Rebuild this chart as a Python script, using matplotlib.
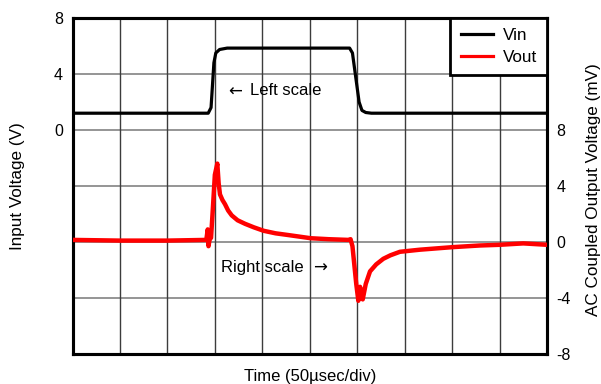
import matplotlib
matplotlib.use("Agg")
import matplotlib.pyplot as plt
from matplotlib.lines import Line2D

plt.rcParams['font.family'] = ['Liberation Sans', 'DejaVu Sans']

# ---- data (time in microseconds, 50 us/div) ----
vin_t = [0, 100, 143, 146, 149, 151, 155, 163, 200, 250, 292, 295, 302, 305, 309, 315, 400, 500]
vin_v = [1.2, 1.2, 1.2, 1.6, 4.8, 5.5, 5.75, 5.85, 5.85, 5.85, 5.85, 5.5, 2.0, 1.4, 1.25, 1.2, 1.2, 1.2]

vout_t = [0, 50, 100, 141, 142.5, 143.3, 144.5, 146, 148, 150, 152.6, 154, 155.4, 158, 160.7,
          164, 167.8, 174, 181.8, 191, 201.5, 214, 227, 251, 270, 290.6, 293, 295, 299, 301.2,
          303, 305.8, 309, 313.5, 320, 327.5, 335, 345, 366, 400, 429, 450, 475, 500]
vout_v = [0.15, 0.1, 0.1, 0.15, 0.9, -0.3, 0.2, 0.3, 2.5, 4.8, 5.6, 4.2, 3.4, 3.0, 2.7,
          2.25, 1.9, 1.55, 1.3, 1.05, 0.8, 0.62, 0.5, 0.27, 0.2, 0.15, 0.2, -0.3, -3.0, -4.2,
          -3.2, -4.1, -3.0, -2.1, -1.6, -1.2, -0.95, -0.7, -0.55, -0.37, -0.25, -0.2, -0.1, -0.2]

left_ticks = [-16, -12, -8, -4, 0, 4, 8]
left_labels = ['', '', '', '', '0', '4', '8']
right_ticks = [-8, -4, 0, 4, 8, 12, 16]
right_labels = ['-8', '-4', '0', '4', '8', '', '']
time_ticks = [0, 50, 100, 150, 200, 250, 300, 350, 400, 450, 500]

fig = plt.figure(figsize=(6.01, 3.84), dpi=100)
ax = fig.add_axes([72.5/601, 30/384, (547-72.5)/601, (354-18)/384])
ax2 = ax.twinx()

ax.set_xlim(0, 500)
ax.set_ylim(-16, 8)
ax2.set_ylim(-8, 16)

ax.set_xticks(time_ticks)
ax.set_xticklabels([])
ax.set_yticks(left_ticks)
ax.set_yticklabels(left_labels, fontsize=11.5)
ax2.set_yticks(right_ticks)
ax2.set_yticklabels(right_labels, fontsize=11.5)
ax.tick_params(axis='both', length=0, pad=7)
ax2.tick_params(axis='y', length=0, pad=7)

for y in left_ticks:
    ax.axhline(y, color='#8c8c8c', lw=1.3, zorder=0)
for x in time_ticks:
    ax.axvline(x, color='#3c3c3c', lw=1.0, zorder=0)

for a in (ax, ax2):
    for s in a.spines.values():
        s.set_linewidth(2.2)
        s.set_color('black')

ax.plot(vin_t, vin_v, color='black', lw=2.3, zorder=3)
ax2.plot(vout_t, vout_v, color='#ff0000', lw=3.2, zorder=3)

ax.set_ylabel('Input Voltage (V)', fontsize=12.3)
ax.yaxis.set_label_coords(-0.1, 0.5)
ax2.set_ylabel('AC Coupled Output Voltage (mV)', fontsize=12.3)
ax2.yaxis.set_label_coords(1.082, 0.49)
ax.set_xlabel('Time (50\u00b5sec/div)', fontsize=12)
ax.xaxis.set_label_coords(0.5, -0.045)

ax.text(163.9, 2.75, '\u2190', fontsize=12, va='center', ha='left', family='DejaVu Sans')
ax.text(187, 2.79, 'Left scale', fontsize=12, va='center', ha='left')
ax2.text(156.5, -1.8, 'Right scale', fontsize=12, va='center', ha='left')
ax2.text(253.4, -1.85, '\u2192', fontsize=12, va='center', ha='left', family='DejaVu Sans')

handles = [Line2D([0], [0], color='black', lw=2.3), Line2D([0], [0], color='#ff0000', lw=2.3)]
leg = ax2.legend(handles, ['Vin', 'Vout'], loc='upper right', fontsize=12.3,
                 fancybox=False, framealpha=1, edgecolor='black', borderaxespad=0,
                 handlelength=1.9, handletextpad=0.55, labelspacing=0.4, borderpad=0.6)
leg.get_frame().set_linewidth(2.0)

fig.savefig('out.png', dpi=100)
